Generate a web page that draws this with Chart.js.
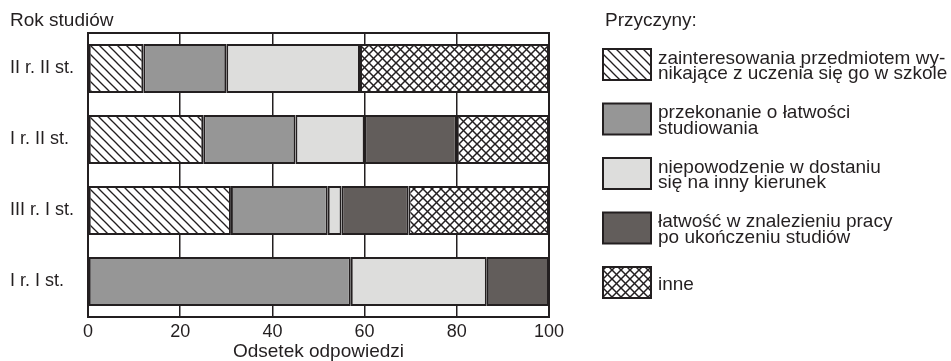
<!DOCTYPE html>
<html>
<head>
<meta charset="utf-8">
<script src="https://cdn.jsdelivr.net/npm/chart.js@4"></script>
<style>
  html, body { margin: 0; padding: 0; background: #fff; }
  #wrap { width: 951px; height: 361px; position: relative; }
</style>
</head>
<body>
<div id="wrap"><canvas id="c" width="951" height="361"></canvas></div>
<script>
// ---- data ----
const categories = ['II r. II st.', 'I r. II st.', 'III r. I st.', 'I r. I st.'];
const zainteresowania = [12, 25, 31, null];
const przekonanie = [18, 20, 21, 57];
const niepowodzenie = [29, 15, 3, 29.5];
const latwoscPracy = [null, 20, 14.5, 13.5];
const inne = [41, 20, 30.5, null];
const seriesLabels = [
  ['zainteresowania przedmiotem wy-', 'nikające z uczenia się go w szkole'],
  ['przekonanie o łatwości', 'studiowania'],
  ['niepowodzenie w dostaniu', 'się na inny kierunek'],
  ['łatwość w znalezieniu pracy', 'po ukończeniu studiów'],
  ['inne']
];
const xTicks = [0, 20, 40, 60, 80, 100];
const yTitle = 'Rok studiów';
const xTitle = 'Odsetek odpowiedzi';
const legendTitle = 'Przyczyny:';

// ---- styles ----
const INK = '#231f20';
const FONT = '"Liberation Sans", Arial, Helvetica, sans-serif';

function makePattern(s, cross, lw) {
  const c = document.createElement('canvas');
  c.width = s; c.height = s;
  const g = c.getContext('2d');
  g.fillStyle = '#ffffff';
  g.fillRect(0, 0, s, s);
  g.strokeStyle = INK;
  g.lineWidth = lw;
  for (const k of [-s, 0, s]) {
    g.beginPath(); g.moveTo(-1, -1 + k); g.lineTo(s + 1, s + 1 + k); g.stroke();
    if (cross) { g.beginPath(); g.moveTo(-1, s + 1 + k); g.lineTo(s + 1, -1 + k); g.stroke(); }
  }
  return g.createPattern(c, 'repeat');
}
const fills = [
  makePattern(9, false, 1.3),
  '#969696',
  '#dddddc',
  '#625d5b',
  makePattern(9, true, 1.5)
];
const seriesData = [zainteresowania, przekonanie, niepowodzenie, latwoscPracy, inne];

const datasets = seriesData.map((d, i) => ({
  label: seriesLabels[i],
  data: d,
  backgroundColor: fills[i],
  borderColor: INK,
  borderWidth: 2,
  borderSkipped: false,
  categoryPercentage: 1.0,
  barPercentage: 0.69
}));

const extrasPlugin = {
  id: 'extras',
  afterDatasetsDraw(chart) {
    const { ctx, chartArea: a } = chart;
    ctx.save();
    ctx.strokeStyle = INK;
    ctx.lineWidth = 2;
    ctx.strokeRect(a.left, a.top, a.right - a.left, a.bottom - a.top);
    ctx.restore();
  },
  afterDraw(chart) {
    const { ctx } = chart;
    ctx.save();
    ctx.fillStyle = INK;
    ctx.font = '19px ' + FONT;
    ctx.textBaseline = 'alphabetic';
    ctx.textAlign = 'left';
    ctx.fillText(yTitle, 10, 26);
    ctx.fillText(legendTitle, 605, 26);
    const boxX = 603, boxW = 48, boxH = 31, top0 = 49, step = 54.5, textX = 658, lh = 15.5;
    chart.data.datasets.forEach((ds, i) => {
      const top = top0 + i * step;
      ctx.fillStyle = ds.backgroundColor;
      ctx.fillRect(boxX, top, boxW, boxH);
      ctx.strokeStyle = INK;
      ctx.lineWidth = 2;
      ctx.strokeRect(boxX, top, boxW, boxH);
      const lines = Array.isArray(ds.label) ? ds.label : [ds.label];
      const cy = top + boxH / 2;
      ctx.fillStyle = INK;
      lines.forEach((t, j) => {
        const y = cy + 7 + (j - (lines.length - 1) / 2) * lh;
        ctx.fillText(t, textX, y);
      });
    });
    ctx.restore();
  }
};

new Chart(document.getElementById('c'), {
  type: 'bar',
  data: { labels: categories, datasets },
  options: {
    indexAxis: 'y',
    responsive: false,
    animation: false,
    events: [],
    layout: { padding: { left: 10, right: 402, top: 33, bottom: 0 } },
    plugins: { legend: { display: false }, tooltip: { enabled: false }, title: { display: false } },
    scales: {
      x: {
        stacked: true,
        min: 0, max: 100,
        afterBuildTicks: (s) => { s.ticks = xTicks.map(v => ({ value: v })); },
        afterFit: (s) => { s.height = 44; },
        grid: { color: INK, lineWidth: 1.5, drawTicks: false },
        border: { display: true, color: INK, width: 2 },
        ticks: { color: INK, font: { family: FONT, size: 18 }, padding: 4, maxRotation: 0 },
        title: { display: true, text: xTitle, color: INK, font: { family: FONT, size: 19, lineHeight: 1.0 }, padding: { top: 0, bottom: 0 } }
      },
      y: {
        stacked: true,
        afterFit: (s) => { s.width = 78; },
        grid: { display: false, drawTicks: false },
        border: { display: true, color: INK, width: 2 },
        ticks: { color: INK, font: { family: FONT, size: 18 }, crossAlign: 'far', padding: 0 }
      }
    }
  },
  plugins: [extrasPlugin]
});
</script>
</body>
</html>
